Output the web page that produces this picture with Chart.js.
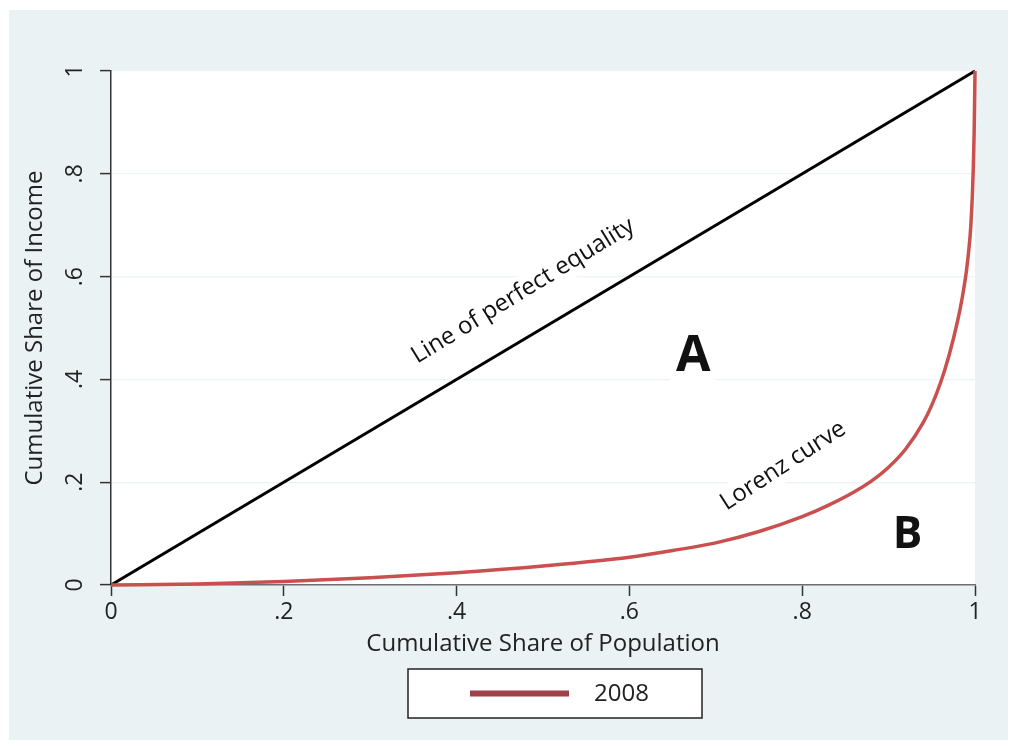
<!DOCTYPE html>
<html>
<head>
<meta charset="utf-8">
<script src="https://cdn.jsdelivr.net/npm/chart.js@4/dist/chart.umd.min.js"></script>
<style>
  html, body { margin: 0; padding: 0; background: #ffffff; }
  #frame { position: absolute; left: 9px; top: 10px; width: 999px; height: 730px; background: #eaf2f3; }
  canvas { display: block; }
</style>
</head>
<body>
<div id="frame"><canvas id="lorenz" width="999" height="730"></canvas></div>
<script>
// values
var POP_SHARE = [0, 0.1, 0.2, 0.3, 0.4, 0.5, 0.6, 0.65, 0.7, 0.75, 0.8, 0.83, 0.86, 0.88, 0.9,
  0.92, 0.94, 0.95, 0.96, 0.97, 0.98, 0.985, 0.99, 0.993, 0.995, 0.997, 0.998, 0.999, 1];
var INCOME_SHARE = [0, 0.002, 0.007, 0.014, 0.024, 0.037, 0.054, 0.067, 0.082, 0.104, 0.133, 0.155, 0.181, 0.202, 0.229,
  0.265, 0.316, 0.35, 0.393, 0.447, 0.515, 0.557, 0.61, 0.655, 0.695, 0.76, 0.81, 0.88, 1];
var EQUALITY_X = [0, 1];
var EQUALITY_Y = [0, 1];
var TICK_VALUES = [0, 0.2, 0.4, 0.6, 0.8, 1];
var TICK_LABELS = ["0", ".2", ".4", ".6", ".8", "1"];
var SERIES_LABEL = "2008";
var X_TITLE = "Cumulative Share of Population";
var Y_TITLE = "Cumulative Share of Income";
var NOTE_TEXTS = ["Line of perfect equality", "Lorenz curve", "A", "B"];

var FONT = "'Open Sans', 'DejaVu Sans', sans-serif";
var LORENZ_COLOR = "#c9504f";
var LEGEND_COLOR = "#a0414a";
var GRID_COLOR = "#edf3f5";

function toPoints(xs, ys) {
  return xs.map(function (x, i) { return { x: x, y: ys[i] }; });
}

function setTicks(scale) {
  scale.ticks = TICK_VALUES.map(function (v) { return { value: v }; });
}

function tickLabel(value) {
  var i = TICK_VALUES.indexOf(value);
  return i >= 0 ? TICK_LABELS[i] : "";
}

// where each note sits, in data units
var NOTE_STYLE = [
  { x: 0.477, y: 0.572, angle: -31.5, size: 24, weight: "normal", box: true },
  { x: 0.778, y: 0.232, angle: -33, size: 24, weight: "normal", box: true },
  { x: 0.674, y: 0.444, angle: 0, size: 50, weight: "bold", box: true },
  { x: 0.922, y: 0.097, angle: 0, size: 44, weight: "bold", box: false },
];

var plotBackground = {
  id: "plotBackground",
  beforeDraw: function (chart) {
    var a = chart.chartArea;
    var ctx = chart.ctx;
    ctx.save();
    ctx.fillStyle = "#ffffff";
    ctx.fillRect(a.left, a.top, a.right - a.left, a.bottom - a.top);
    ctx.restore();
  },
};

var notes = {
  id: "notes",
  beforeDatasetsDraw: function (chart) {
    var ctx = chart.ctx;
    var xs = chart.scales.x;
    var ys = chart.scales.y;
    NOTE_TEXTS.forEach(function (text, i) {
      var s = NOTE_STYLE[i];
      ctx.save();
      ctx.translate(xs.getPixelForValue(s.x), ys.getPixelForValue(s.y));
      ctx.rotate((s.angle * Math.PI) / 180);
      ctx.font = s.weight + " " + s.size + "px " + FONT;
      ctx.textAlign = "center";
      ctx.textBaseline = "middle";
      if (s.box) {
        var w = ctx.measureText(text).width + 12;
        var h = s.size * 1.3;
        ctx.fillStyle = "#ffffff";
        ctx.fillRect(-w / 2, -h / 2, w, h);
      }
      ctx.fillStyle = "#111111";
      ctx.fillText(text, 0, 0);
      ctx.restore();
    });
  },
};

var boxedLegend = {
  id: "boxedLegend",
  afterDraw: function (chart) {
    var a = chart.chartArea;
    var ctx = chart.ctx;
    var left = a.left + 297;
    var top = a.bottom + 84;
    var w = 294;
    var h = 49;
    var mid = top + h / 2;
    ctx.save();
    ctx.fillStyle = "#ffffff";
    ctx.fillRect(left, top, w, h);
    ctx.strokeStyle = "#222222";
    ctx.lineWidth = 1.5;
    ctx.strokeRect(left, top, w, h);
    ctx.strokeStyle = LEGEND_COLOR;
    ctx.lineWidth = 6;
    ctx.beginPath();
    ctx.moveTo(left + 62, mid);
    ctx.lineTo(left + 161, mid);
    ctx.stroke();
    ctx.fillStyle = "#222222";
    ctx.font = "24px " + FONT;
    ctx.textAlign = "left";
    ctx.textBaseline = "middle";
    ctx.fillText(chart.data.datasets[0].label, left + 186, mid + 1);
    ctx.restore();
  },
};

new Chart(document.getElementById("lorenz"), {
  type: "line",
  data: {
    datasets: [
      {
        label: SERIES_LABEL,
        data: toPoints(POP_SHARE, INCOME_SHARE),
        borderColor: LORENZ_COLOR,
        borderWidth: 3.5,
        pointRadius: 0,
        cubicInterpolationMode: "monotone",
        clip: 6,
      },
      {
        label: "equality",
        data: toPoints(EQUALITY_X, EQUALITY_Y),
        borderColor: "#000000",
        borderWidth: 3,
        pointRadius: 0,
        clip: 6,
      },
    ],
  },
  options: {
    responsive: false,
    animation: false,
    layout: { padding: { left: 0, top: 61, right: 33, bottom: 75 } },
    plugins: { legend: { display: false }, tooltip: { enabled: false } },
    scales: {
      x: {
        type: "linear",
        min: 0,
        max: 1,
        afterBuildTicks: setTicks,
        afterFit: function (scale) { scale.height = 80; },
        grid: { drawOnChartArea: false, tickLength: 11, tickColor: "#333333", tickWidth: 1.5 },
        border: { color: "#6f6f6f", width: 1.5 },
        ticks: {
          callback: tickLabel,
          color: "#222222",
          padding: 3,
          maxRotation: 0,
          font: { family: FONT, size: 23 },
        },
        title: {
          display: true,
          text: X_TITLE,
          color: "#222222",
          font: { family: FONT, size: 24 },
          padding: { top: 0, bottom: 6 },
        },
      },
      y: {
        type: "linear",
        min: 0,
        max: 1,
        afterBuildTicks: setTicks,
        afterFit: function (scale) { scale.width = 102; },
        grid: { color: GRID_COLOR, lineWidth: 1.2, tickLength: 11, tickColor: "#333333", tickWidth: 1.5 },
        border: { color: "#333333", width: 1.5 },
        ticks: {
          callback: tickLabel,
          color: "#222222",
          padding: 15,
          minRotation: 90,
          maxRotation: 90,
          crossAlign: "center",
          font: { family: FONT, size: 23 },
        },
        title: {
          display: true,
          text: Y_TITLE,
          color: "#222222",
          font: { family: FONT, size: 24 },
          padding: { top: 12, bottom: 0 },
        },
      },
    },
  },
  plugins: [plotBackground, notes, boxedLegend],
});
</script>
</body>
</html>
